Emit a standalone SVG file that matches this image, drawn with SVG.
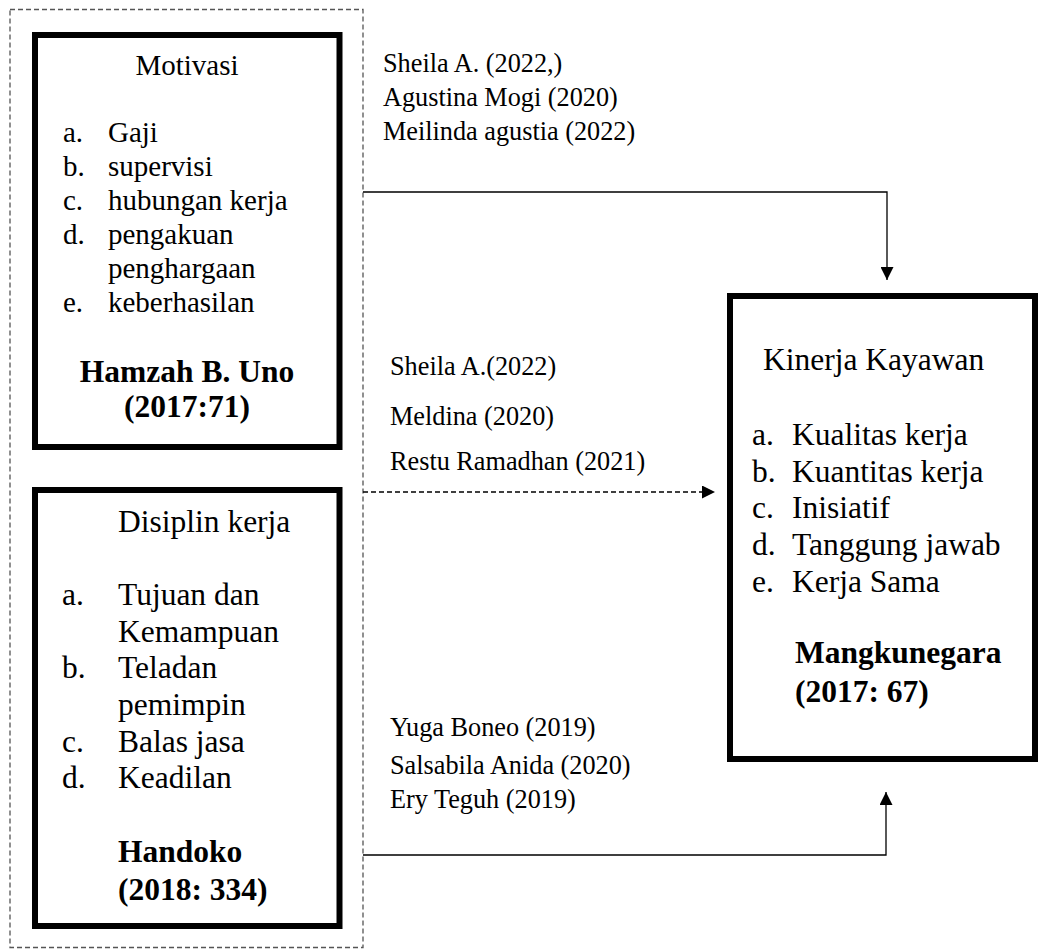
<svg xmlns="http://www.w3.org/2000/svg" width="1041" height="949" viewBox="0 0 1041 949">
<defs>
<style>
text{font-family:"Liberation Serif","Times New Roman",serif;fill:#000}
.s11{font-size:29px}
.s12{font-size:31.5px}
.s10{font-size:26.25px}
.b{font-weight:bold}
.box{fill:#fff;stroke:#000;stroke-width:6}
.frame{fill:none;stroke:#555;stroke-width:1.3;stroke-dasharray:5 3}
.ln{fill:none;stroke:#000;stroke-width:1.3}
.dl{fill:none;stroke:#000;stroke-width:1.3;stroke-dasharray:5 3}
</style>
<marker id="ah" viewBox="0 0 10 10" refX="10" refY="5" markerWidth="15" markerHeight="13" markerUnits="userSpaceOnUse" orient="auto">
<path d="M0,0 L10,5 L0,10 Z" fill="#000"/>
</marker>
</defs>
<rect width="1041" height="949" fill="#fff"/>
<g id="frame"><rect class="frame" x="10" y="9.5" width="353" height="938"/></g>
<g id="motivasi">
<rect class="box" x="35" y="35" width="304.5" height="412"/>
<text class="s11" x="187" y="75" text-anchor="middle">Motivasi</text>
<text class="s11" x="63" y="142">a.</text><text class="s11" x="108" y="142">Gaji</text>
<text class="s11" x="63" y="176">b.</text><text class="s11" x="108" y="176">supervisi</text>
<text class="s11" x="63" y="210">c.</text><text class="s11" x="108" y="210">hubungan kerja</text>
<text class="s11" x="63" y="244">d.</text><text class="s11" x="108" y="244">pengakuan</text>
<text class="s11" x="108" y="278">penghargaan</text>
<text class="s11" x="63" y="312">e.</text><text class="s11" x="108" y="312">keberhasilan</text>
<text class="s12 b" x="187" y="382" text-anchor="middle">Hamzah B. Uno</text>
<text class="s12 b" x="187" y="417" text-anchor="middle">(2017:71)</text>
</g>
<g id="disiplin">
<rect class="box" x="35" y="490" width="304.5" height="436"/>
<text class="s12" x="118" y="532">Disiplin kerja</text>
<text class="s12" x="62" y="605">a.</text><text class="s12" x="118" y="605">Tujuan dan</text>
<text class="s12" x="118" y="642">Kemampuan</text>
<text class="s12" x="62" y="678">b.</text><text class="s12" x="118" y="678">Teladan</text>
<text class="s12" x="118" y="715">pemimpin</text>
<text class="s12" x="62" y="752">c.</text><text class="s12" x="118" y="752">Balas jasa</text>
<text class="s12" x="62" y="788">d.</text><text class="s12" x="118" y="788">Keadilan</text>
<text class="s12 b" x="118" y="862">Handoko</text>
<text class="s12 b" x="118" y="900">(2018: 334)</text>
</g>
<g id="kinerja">
<rect class="box" x="730" y="296" width="305" height="463"/>
<text class="s12" x="763" y="370">Kinerja Kayawan</text>
<text class="s12" x="752" y="445">a.</text><text class="s12" x="792" y="445">Kualitas kerja</text>
<text class="s12" x="752" y="482">b.</text><text class="s12" x="792" y="482">Kuantitas kerja</text>
<text class="s12" x="752" y="518">c.</text><text class="s12" x="792" y="518">Inisiatif</text>
<text class="s12" x="752" y="555">d.</text><text class="s12" x="792" y="555">Tanggung jawab</text>
<text class="s12" x="752" y="592">e.</text><text class="s12" x="792" y="592">Kerja Sama</text>
<text class="s12 b" x="795" y="663">Mangkunegara</text>
<text class="s12 b" x="795" y="702">(2017: 67)</text>
</g>
<g id="connectors">
<polyline class="ln" points="363,192 887,192 887,280" marker-end="url(#ah)"/>
<line class="dl" x1="363" y1="492" x2="715" y2="492" marker-end="url(#ah)"/>
<polyline class="ln" points="363,855 886,855 886,792" marker-end="url(#ah)"/>
</g>
<g id="labels">
<text class="s10" x="383" y="72">Sheila A. (2022,)</text>
<text class="s10" x="383" y="106">Agustina Mogi (2020)</text>
<text class="s10" x="383" y="140">Meilinda agustia (2022)</text>
<text class="s10" x="390" y="375">Sheila A.(2022)</text>
<text class="s10" x="390" y="425">Meldina (2020)</text>
<text class="s10" x="390" y="470">Restu Ramadhan (2021)</text>
<text class="s10" x="390" y="736">Yuga Boneo (2019)</text>
<text class="s10" x="390" y="774">Salsabila Anida (2020)</text>
<text class="s10" x="390" y="808">Ery Teguh (2019)</text>
</g>
</svg>
